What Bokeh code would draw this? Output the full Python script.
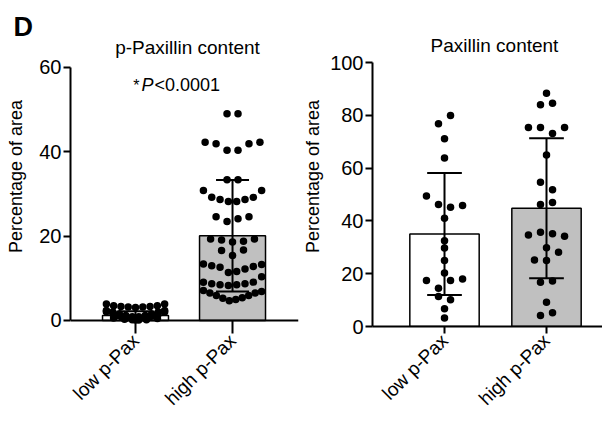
import math
from bokeh.plotting import figure
from bokeh.layouts import row
from bokeh.models import Span, Label, FixedTicker
from bokeh.embed import file_html
from bokeh.resources import INLINE

FONT = "Liberation Sans"

categories = ["low p-Pax", "high p-Pax"]

# ---- Panel 1: p-Paxillin content (values per swarm row, left to right)
ppax_low_rows = [
    [3.9, 3.5, 3.3, 3.2, 3.1, 3.2, 3.3, 3.5, 3.9],
    [2.4, 2.0, 1.6, 1.2, 0.9, 0.9, 1.2, 1.6, 2.0, 2.4],
    [2.1, 1.6, 1.1, 0.6, 0.2, 0.1, 0.5, 1.0, 1.5, 2.0],
    [0.6, 0.3, 0.1, 0.2, 0.5],
]
ppax_high_rows = [
    [49.0, 49.0],
    [42.3, 41.9, 40.4, 40.4, 41.9, 42.3],
    [33.4, 33.4],
    [30.8, 29.2, 28.7, 28.2, 28.2, 28.7, 29.2, 30.8],
    [24.6, 23.5, 24.1, 24.6],
    [19.3, 19.1, 18.6, 18.8, 19.3],
    [16.6, 15.4, 16.7],
    [13.4, 13.0, 12.6, 11.4, 11.6, 12.2, 12.8, 13.3],
    [9.1, 8.7, 8.5, 8.3, 8.5, 8.7, 9.1, 10.4],
    [7.1, 6.5, 5.9, 5.3, 4.7, 5.0, 5.4, 5.9, 6.5, 6.9],
]
ppax_mean = [1.2, 20.1]
ppax_sd = [1.0, 13.2]
ppax_yticks = [0, 20, 40, 60]

# ---- Panel 2: Paxillin content
pax_low_rows = [
    [76.8, 79.9],
    [71.1],
    [63.8],
    [49.4, 46.2, 45.2, 45.8],
    [41.0],
    [32.5],
    [29.7],
    [25.0],
    [20.3],
    [17.4, 14.5, 17.4, 18.0],
    [11.4, 10.1],
    [6.7],
    [3.2],
]
pax_high_rows = [
    [88.4],
    [84.0, 84.6],
    [75.4, 75.4, 73.1, 75.4],
    [65.0],
    [54.6, 51.8],
    [46.2, 47.0],
    [34.7, 35.7, 35.1, 34.2],
    [29.8],
    [25.2, 25.0, 28.1],
    [16.8, 17.2],
    [9.2],
    [4.2, 5.2],
]
pax_mean = [35.0, 44.8]
pax_sd = [23.1, 26.5]
pax_yticks = [0, 20, 40, 60, 80, 100]

bar_colors = ["white", "#c0c0c0"]


def swarm(rows, center, nat, span):
    xs, ys = [], []
    for r in rows:
        n = len(r)
        d = nat if n < 2 else min(nat, span / (n - 1))
        for i, v in enumerate(r):
            xs.append(center + (i - (n - 1) / 2) * d)
            ys.append(v)
    return xs, ys


def make_panel(groups, means, sds, yticks, x_range, y_range, fw, fh,
               mb_left, mb_right, mb_top, mb_bottom, nat, label_standoff, zero_tick_in):
    p = figure(frame_width=fw, frame_height=fh, x_range=x_range, y_range=y_range,
               output_backend="svg", toolbar_location=None,
               min_border_left=mb_left, min_border_right=mb_right,
               min_border_top=mb_top, min_border_bottom=mb_bottom)
    p.outline_line_color = None
    p.grid.visible = False
    p.background_fill_color = "white"
    p.border_fill_color = "white"

    xs = list(range(len(categories)))
    p.vbar(x=xs, width=0.68, bottom=0, top=means, fill_color=bar_colors,
           line_color="black", line_width=1.5)

    lo = [m - s for m, s in zip(means, sds)]
    hi = [m + s for m, s in zip(means, sds)]
    p.segment(x0=xs, y0=lo, x1=xs, y1=hi, line_color="black", line_width=2)
    cap = 0.17
    p.segment(x0=[x - cap for x in xs], y0=hi, x1=[x + cap for x in xs], y1=hi,
              line_color="black", line_width=2)
    p.segment(x0=[x - cap for x in xs], y0=lo, x1=[x + cap for x in xs], y1=lo,
              line_color="black", line_width=2)

    for i, rows in enumerate(groups):
        sx, sy = swarm(rows, i, nat, 0.6)
        p.scatter(sx, sy, size=7.5, fill_color="black", line_color=None)

    p.yaxis.ticker = FixedTicker(ticks=yticks)
    p.yaxis.bounds = (yticks[0], yticks[-1])
    p.yaxis.axis_label = "Percentage of area"
    p.yaxis.axis_label_text_font = FONT
    p.yaxis.axis_label_text_font_size = "18px"
    p.yaxis.axis_label_text_font_style = "normal"
    p.yaxis.axis_label_text_color = "black"
    p.yaxis.axis_label_standoff = label_standoff
    p.xaxis.ticker = FixedTicker(ticks=xs)
    p.xaxis.major_label_overrides = {i: c for i, c in enumerate(categories)}
    p.xaxis.major_label_orientation = math.pi / 4
    for ax in (p.xaxis, p.yaxis):
        ax.major_label_text_font = FONT
        ax.major_label_text_font_size = "19px"
        ax.major_label_text_color = "black"
        ax.axis_line_width = 2
        ax.axis_line_color = "black"
        ax.major_tick_line_width = 2
        ax.major_tick_line_color = "black"
        ax.major_tick_out = 7
        ax.major_tick_in = 0
        ax.minor_tick_line_color = None
        ax.major_label_standoff = 2
    p.yaxis.major_label_text_font_size = "20px"
    p.xaxis.major_label_standoff = 4
    if zero_tick_in > 0:
        p.xaxis.axis_line_color = None
        p.xaxis.major_tick_in = zero_tick_in
        p.add_layout(Span(location=0, dimension="width", line_color="black", line_width=2))
    return p


def text_label(p, x, y, text, size="19px", style="normal", align="center", x_offset=0):
    p.add_layout(Label(x=x, y=y, text=text, text_font=FONT, text_font_size=size,
                       text_font_style=style, text_color="black", text_align=align,
                       text_baseline="alphabetic", x_offset=x_offset))


# both frames span y 26..326 (aligned by the row layout)
# left panel: frame x 70..298, y(60)=67, y(0)=320
p1 = make_panel([ppax_low_rows, ppax_high_rows], ppax_mean, ppax_sd,
                ppax_yticks, (-0.670, 1.680), (-1.423, 69.72), 228, 300,
                70, 2, 26, 94, 0.113, 10, 6)
p1.title.text = "D"
p1.title.align = "left"
p1.title.offset = -57
p1.title.standoff = -30
p1.title.text_font = FONT
p1.title.text_font_size = "27px"
p1.title.text_font_style = "bold"
p1.title.text_color = "black"

text_label(p1, 0.536, 64.74, "p-Paxillin content")
x0 = 0.196
yp = 55.8
text_label(p1, x0, yp, "<0.0001", size="18px", align="left")
text_label(p1, x0, yp, "P", size="18px", style="italic", align="right", x_offset=-1)
text_label(p1, x0, yp, "*", size="16px", align="right", x_offset=-15)

# right panel: frame x 370..600, y(100)=62, y(0)=326
p2 = make_panel([pax_low_rows, pax_high_rows], pax_mean, pax_sd,
                pax_yticks, (-0.706, 1.549), (0, 113.64), 230, 300,
                70, 0, 26, 94, 0.118, 4, 0)
text_label(p2, 0.49, 106.4, "Paxillin content")

layout = row(p1, p2)
open("out.html", "w").write(file_html(layout, INLINE))
